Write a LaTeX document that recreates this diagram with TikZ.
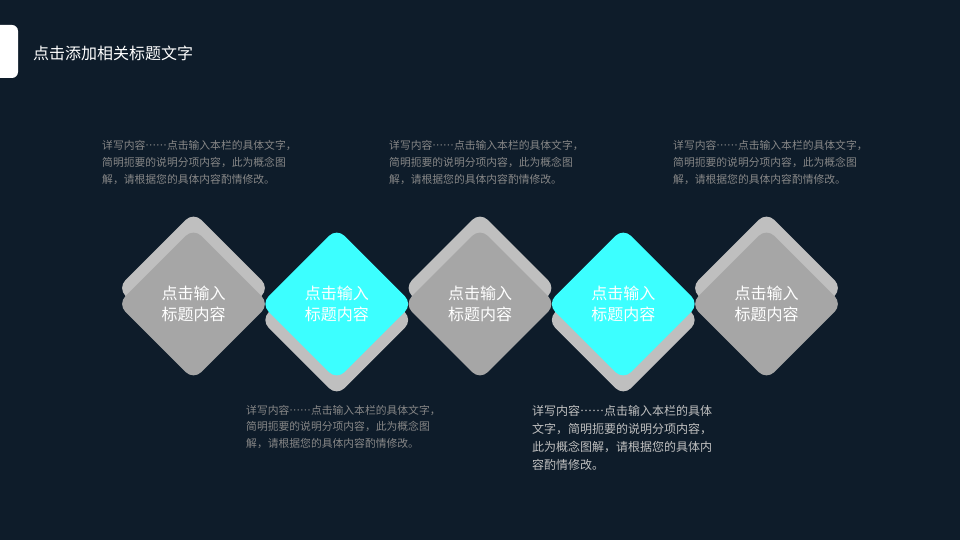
\documentclass[tikz,border=0pt]{standalone}
\usepackage{fontspec}
\newfontfamily\cjk[Script=CJK,Language=Chinese Simplified]{Noto Sans CJK SC}
\usetikzlibrary{shapes.geometric}
\definecolor{bgnavy}{RGB}{14,28,42}
\definecolor{frontgray}{RGB}{166,166,166}
\definecolor{backgray}{RGB}{191,191,191}
\definecolor{brightcyan}{RGB}{60,255,255}
\definecolor{notegray}{RGB}{135,135,135}
\definecolor{notelight}{RGB}{192,192,192}

\begin{document}
\begin{tikzpicture}
    [x=1pt,y=-1pt,
     backstyle/.style={diamond,fill=backgray,minimum size=152pt,inner sep=0pt,rounded corners=11pt},
     frontstyle/.style={diamond,fill=frontgray,minimum size=152pt,inner sep=0pt,rounded corners=11pt,
                        text=white,align=center,font=\cjk\fontsize{16}{20.5}\selectfont},
     cyanstyle/.style={frontstyle,fill=brightcyan},
     notestyle/.style={anchor=base west,align=left,inner sep=0pt,text=notegray,
                       font=\cjk\fontsize{10.8}{16.5}\selectfont},
     bignotestyle/.style={notestyle,text=notelight,font=\cjk\fontsize{12}{18}\selectfont}]

    \fill [bgnavy] (0,0) rectangle (960,540);
    \useasboundingbox (0,0) rectangle (960,540);

    \node [fill=white,rounded corners=6pt,minimum width=28pt,minimum height=53pt,inner sep=0pt] (bar) at (4,51.5) {};
    \node [anchor=west,inner sep=0pt,text=white,font=\cjk\fontsize{16}{19}\selectfont] (title) at (33,53) {点击添加相关标题文字};

    \node [backstyle] (b1) at (193.5,288) {};
    \node [frontstyle] (d1) at (193.5,304) {点击输入\\标题内容};
    \node [backstyle] (b2) at (336.75,320) {};
    \node [cyanstyle] (d2) at (336.75,304) {点击输入\\标题内容};
    \node [backstyle] (b3) at (480,288) {};
    \node [frontstyle] (d3) at (480,304) {点击输入\\标题内容};
    \node [backstyle] (b4) at (623.25,320) {};
    \node [cyanstyle] (d4) at (623.25,304) {点击输入\\标题内容};
    \node [backstyle] (b5) at (766.5,288) {};
    \node [frontstyle] (d5) at (766.5,304) {点击输入\\标题内容};

    \node [notestyle] (n1) at (102,183) {详写内容……点击输入本栏的具体文字，\\简明扼要的说明分项内容，此为概念图\\解，请根据您的具体内容酌情修改。};
    \node [notestyle] (n3) at (389,183) {详写内容……点击输入本栏的具体文字，\\简明扼要的说明分项内容，此为概念图\\解，请根据您的具体内容酌情修改。};
    \node [notestyle] (n5) at (673,183) {详写内容……点击输入本栏的具体文字，\\简明扼要的说明分项内容，此为概念图\\解，请根据您的具体内容酌情修改。};
    \node [notestyle] (n2) at (246,447) {详写内容……点击输入本栏的具体文字，\\简明扼要的说明分项内容，此为概念图\\解，请根据您的具体内容酌情修改。};
    \node [bignotestyle] (n4) at (532,469.5) {详写内容……点击输入本栏的具体\\文字，简明扼要的说明分项内容，\\此为概念图解，请根据您的具体内\\容酌情修改。};
  \end{tikzpicture}
\end{document}
